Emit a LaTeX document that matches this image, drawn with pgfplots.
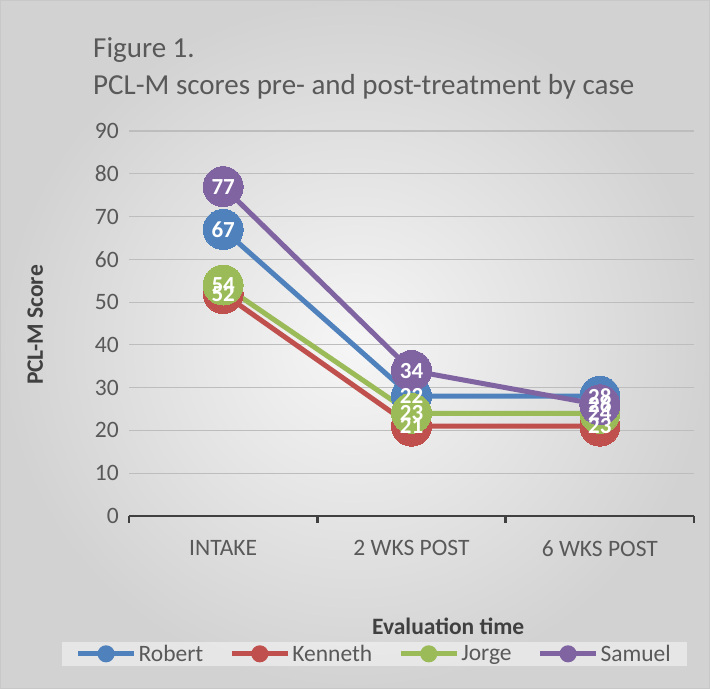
\documentclass[border=0pt]{standalone}
\usepackage{fontspec}
\setmainfont{Carlito}
\usepackage{pgfplots}
\usepackage{pgfplotstable}
\pgfplotsset{compat=1.18}
\definecolor{cRob}{HTML}{4F81BD}
\definecolor{cKen}{HTML}{C0504D}
\definecolor{cJor}{HTML}{9BBB59}
\definecolor{cSam}{HTML}{8064A2}
\definecolor{txtgray}{HTML}{595959}
\definecolor{axiscol}{HTML}{404040}
\definecolor{gridcol}{HTML}{BDBDBD}
\definecolor{bgin}{HTML}{F6F6F6}
\definecolor{bgout}{HTML}{D2D2D2}
\definecolor{bordercol}{HTML}{C8C8C8}
\newcommand{\ticksize}{\fontsize{23.5bp}{28bp}\selectfont}
\newcommand{\titlesize}{\fontsize{29bp}{34bp}\selectfont}

\pgfplotstableread{
x y lab
0 67 67
1 28 22
2 28 28
}\robert
\pgfplotstableread{
x y lab
0 52 52
1 21 21
2 21 23
}\kenneth
\pgfplotstableread{
x y lab
0 54 54
1 24 23
2 24 24
}\jorge
\pgfplotstableread{
x y lab
0 77 77
1 34 34
2 26 26
}\samuel

\begin{document}
\begin{tikzpicture}
\useasboundingbox (0,0) rectangle (710bp,689bp);
\shade[inner color=bgin, outer color=bgout] (0,0) rectangle (710bp,689bp);
\draw[bordercol, line width=1bp] (0.5bp,0.5bp) rectangle (709.5bp,688.5bp);
\node[anchor=base west, inner sep=0pt, font=\titlesize, text=txtgray] at (93bp,631bp) {Figure 1.};
\node[anchor=base west, inner sep=0pt, font=\titlesize, text=txtgray] at (93bp,594bp) {PCL-M scores pre- and post-treatment by case};
\begin{axis}[
  at={(129bp,173bp)}, anchor=south west,
  scale only axis, width=565bp, height=385bp,
  clip=false,
  xmin=-0.5, xmax=2.5, ymin=0, ymax=90,
  xtick={0,1,2}, xticklabels={INTAKE, 2 WKS POST, 6 WKS POST},
  minor xtick={-0.5,0.5,1.5,2.5},
  ytick={0,10,...,90},
  ymajorgrids, grid style={gridcol, line width=1.2bp},
  axis x line*=bottom, axis y line*=left,
  y axis line style={draw=none},
  x axis line style={axiscol, line width=2.5bp, -},
  major tick length=0pt,
  minor tick length=7bp,
  tick align=outside,
  minor tick style={axiscol, line width=2.5bp},
  major tick style={draw=none},
  /pgf/number format/assume math mode=true,
  ticklabel style={font=\ticksize, text=txtgray},
  yticklabel style={inner sep=0pt, xshift=-10bp},
  xticklabel style={inner sep=0pt, yshift=-24bp},
  xlabel={Evaluation time},
  ylabel={PCL-M Score},
  label style={font=\ticksize\bfseries, text=axiscol},
  xlabel style={at={(axis description cs:0.565,-0.286)}, anchor=center},
  ylabel style={at={(axis description cs:-0.166,0.496)}, anchor=center},
  legend columns=4,
  legend cell align=left,
  legend style={at={(axis description cs:0.434,-0.358)}, anchor=center,
    draw=none, fill=white, fill opacity=0.45, text opacity=1,
    font=\ticksize, text=txtgray, inner xsep=14bp, inner ysep=1bp,
    /tikz/every even column/.append style={column sep=24bp}},
  legend image code/.code={\draw[line width=5bp, draw opacity=1] (0bp,0bp) -- (56bp,0bp);
     \fill[fill opacity=1] (28bp,0bp) circle (6bp);},
  every node near coord/.append style={font=\fontsize{23bp}{23bp}\selectfont\bfseries, text=white, anchor=center},
  nodes near coords align={center},
]
\addplot[cRob, line width=5bp, mark=*, mark size=20bp, mark options={fill=cRob, draw=cRob, line width=0bp}] table[x=x,y=y]{\robert};
\addlegendentry{Robert}
\addplot[cKen, line width=5bp, mark=*, mark size=20bp, mark options={fill=cKen, draw=cKen, line width=0bp}] table[x=x,y=y]{\kenneth};
\addlegendentry{Kenneth}
\addplot[cJor, line width=5bp, mark=*, mark size=20bp, mark options={fill=cJor, draw=cJor, line width=0bp}] table[x=x,y=y]{\jorge};
\addlegendentry{Jorge}
\addplot[cSam, line width=5bp, mark=*, mark size=20bp, mark options={fill=cSam, draw=cSam, line width=0bp}] table[x=x,y=y]{\samuel};
\addlegendentry{Samuel}
\addplot[draw=none, mark=none, forget plot, nodes near coords, point meta=explicit symbolic] table[x=x,y=y,meta=lab]{\robert};
\addplot[draw=none, mark=none, forget plot, nodes near coords, point meta=explicit symbolic] table[x=x,y=y,meta=lab]{\kenneth};
\addplot[draw=none, mark=none, forget plot, nodes near coords, point meta=explicit symbolic] table[x=x,y=y,meta=lab]{\jorge};
\addplot[draw=none, mark=none, forget plot, nodes near coords, point meta=explicit symbolic] table[x=x,y=y,meta=lab]{\samuel};
\end{axis}
\end{tikzpicture}
\end{document}
